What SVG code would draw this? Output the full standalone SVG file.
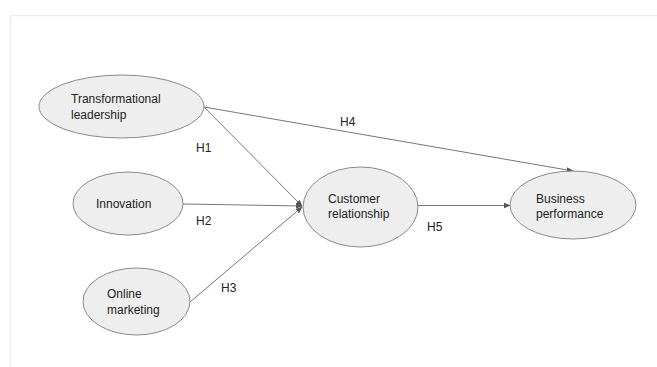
<svg xmlns="http://www.w3.org/2000/svg" width="657" height="367" viewBox="0 0 657 367">
<style>
.node ellipse{fill:#eeeeee;stroke:#8a8a8a;stroke-width:1}
text{font-family:"Liberation Sans",Arial,sans-serif;font-size:12px;fill:#222}
.edge{stroke:#777;stroke-width:1;fill:none}
</style>
<defs>
<marker id="arr" viewBox="0 0 10 10" refX="9" refY="5" markerWidth="7" markerHeight="7" markerUnits="userSpaceOnUse" orient="auto">
<path d="M0,1 L10,5 L0,9 z" fill="#555"/>
</marker>
</defs>
<rect width="657" height="367" fill="#fff"/>
<path d="M10.5,367 V15.5 H657" stroke="#eeeeee" stroke-width="1.5" fill="none"/>
<g id="connectors">
<line class="edge" x1="204" y1="107" x2="302" y2="206" marker-end="url(#arr)"/>
<line class="edge" x1="183" y1="204" x2="302" y2="206" marker-end="url(#arr)"/>
<line class="edge" x1="190" y1="302" x2="302" y2="207" marker-end="url(#arr)"/>
<line class="edge" x1="204" y1="107" x2="573" y2="171" marker-end="url(#arr)"/>
<line class="edge" x1="418" y1="205.5" x2="510" y2="205.5" marker-end="url(#arr)"/>
<text x="196" y="152">H1</text>
<text x="196" y="225">H2</text>
<text x="221" y="292">H3</text>
<text x="340" y="126">H4</text>
<text x="427" y="231">H5</text>
</g>
<g id="transformational" class="node">
<ellipse cx="121.5" cy="106.5" rx="82.5" ry="31.5"/>
<text x="71" y="103">Transformational</text>
<text x="71" y="119">leadership</text>
</g>
<g id="innovation" class="node">
<ellipse cx="128" cy="203.5" rx="55" ry="31.5"/>
<text x="96" y="208">Innovation</text>
</g>
<g id="online" class="node">
<ellipse cx="136.5" cy="301.5" rx="53.5" ry="33.5"/>
<text x="107" y="298">Online</text>
<text x="107" y="314">marketing</text>
</g>
<g id="customer" class="node">
<ellipse cx="360.5" cy="207" rx="57.5" ry="40"/>
<text x="328" y="203">Customer</text>
<text x="328" y="218">relationship</text>
</g>
<g id="business" class="node">
<ellipse cx="573" cy="205" rx="63" ry="34"/>
<text x="536" y="203">Business</text>
<text x="536" y="218">performance</text>
</g>
</svg>
